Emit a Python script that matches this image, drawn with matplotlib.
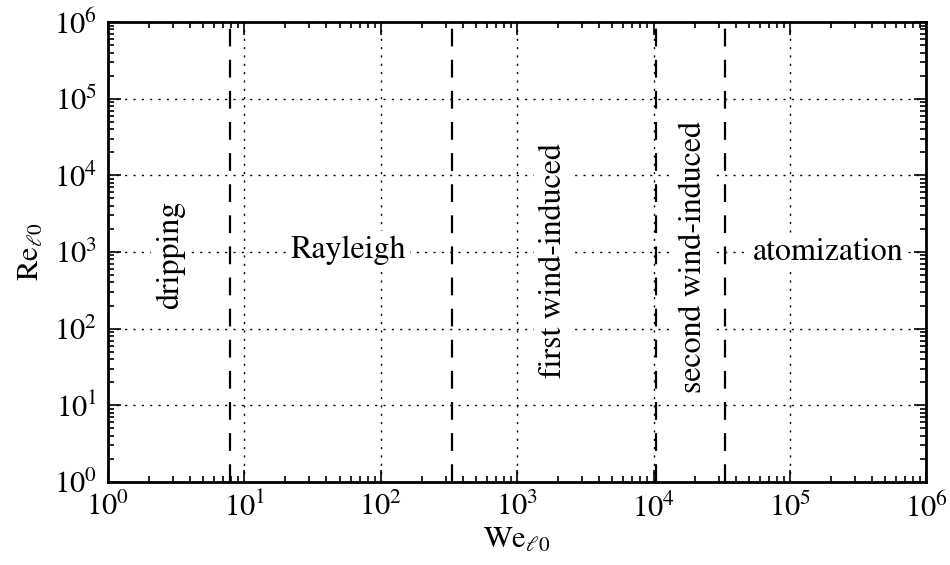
import matplotlib
matplotlib.use("Agg")
import matplotlib.pyplot as plt
from matplotlib.ticker import LogLocator, LogFormatterMathtext

# Regime boundaries (Weber number)
boundaries = [7.85, 334, 1.05e4, 3.37e4]

# Regime labels: (text, We position, Re position, rotation)
labels = ["dripping", "Rayleigh", "first wind-induced", "second wind-induced", "atomization"]
label_we = [2.85, 58, 1830, 1.96e4, 1.9e5]
label_re = [910, 1.05e3, 780, 860, 1.0e3]
label_rot = [90, 0, 90, 90, 0]

xlim = (1, 1e6)
ylim = (1, 1e6)

plt.rcParams["font.family"] = ["STIXGeneral", "DejaVu Serif"]
plt.rcParams["mathtext.fontset"] = "stix"

fig = plt.figure(figsize=(9.5, 5.65), dpi=100)
ax = fig.add_axes([0.1137, 0.147, 0.975 - 0.1137, 0.961 - 0.147])
ax.set_xscale("log")
ax.set_yscale("log")
ax.set_xlim(*xlim)
ax.set_ylim(*ylim)

ax.grid(True, which="major", color="black", linestyle=(0, (1.5, 4.5)), linewidth=1.0)

for b in boundaries:
    ax.axvline(b, color="black", linewidth=1.6, dashes=(8, 6), zorder=3)

for t, xw, yr, rot in zip(labels, label_we, label_re, label_rot):
    ax.text(xw, yr, t, rotation=rot, ha="center", va="center", fontsize=23,
            zorder=4, bbox=dict(facecolor="white", edgecolor="none", pad=3))

ax.xaxis.set_major_locator(LogLocator(base=10, numticks=10))
ax.yaxis.set_major_locator(LogLocator(base=10, numticks=10))
ax.xaxis.set_minor_locator(LogLocator(base=10, subs=range(2, 10), numticks=20))
ax.yaxis.set_minor_locator(LogLocator(base=10, subs=range(2, 10), numticks=20))
ax.xaxis.set_major_formatter(LogFormatterMathtext())
ax.yaxis.set_major_formatter(LogFormatterMathtext())

ax.tick_params(which="both", direction="in", top=True, right=True, labelsize=22, width=1.2)
ax.tick_params(which="major", length=9, pad=8)
ax.tick_params(which="minor", length=4.5)
for s in ax.spines.values():
    s.set_linewidth(2)

ax.set_xlabel(r"$\mathrm{We}_{\ell 0}$", fontsize=22, labelpad=2)
ax.set_ylabel(r"$\mathrm{Re}_{\ell 0}$", fontsize=22, labelpad=6)

fig.savefig("out.png", dpi=100)
